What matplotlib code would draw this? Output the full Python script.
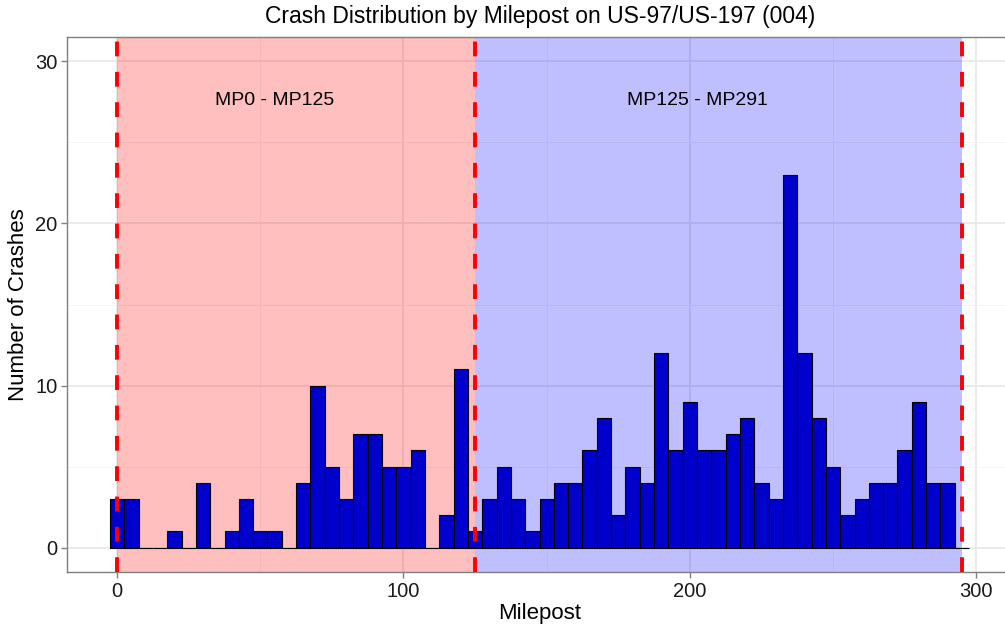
import numpy as np
import matplotlib
matplotlib.use("Agg")
import matplotlib.pyplot as plt
from matplotlib.ticker import MultipleLocator

plt.rcParams["font.family"] = ["Liberation Sans", "DejaVu Sans"]

# histogram bins (width 5, centred on multiples of 5)
BIN_CENTERS = list(range(0, 300, 5))
CRASH_COUNTS = [3, 3, 0, 0, 1, 0, 4, 0, 1, 3, 1, 1, 0, 4, 10, 5, 3, 7, 7, 5,
                5, 6, 0, 2, 11, 1, 3, 5, 3, 1, 3, 4, 4, 6, 8, 2, 5, 4, 12, 6,
                9, 6, 6, 7, 8, 4, 3, 23, 12, 8, 5, 2, 3, 4, 4, 6, 9, 4, 4, 0]
BIN_WIDTH = 5

# segment boundaries and labels
SEGMENTS = [(0, 125, "red", "MP0 - MP125", 55),
            (125, 295, "blue", "MP125 - MP291", 202.5)]
BREAKS = [0, 125, 295]
LABEL_Y = 27.6

fig = plt.figure(figsize=(10.05, 6.3), dpi=100)
ax = fig.add_axes([67 / 1005, 1 - 572 / 630, (1012 - 67) / 1005, (572 - 37) / 630])

ax.set_xlim(-17.5, 312.5)
ax.set_ylim(-1.5, 31.5)

# grid, theme_bw-like
ax.xaxis.set_major_locator(MultipleLocator(100))
ax.xaxis.set_minor_locator(MultipleLocator(50))
ax.yaxis.set_major_locator(MultipleLocator(10))
ax.yaxis.set_minor_locator(MultipleLocator(5))
ax.grid(which="major", color="#e6e6e6", linewidth=1.1, zorder=0)
ax.grid(which="minor", color="#f2f2f2", linewidth=0.6, zorder=0)
ax.set_axisbelow(True)
for sp in ax.spines.values():
    sp.set_color("#7f7f7f")
    sp.set_linewidth(1.0)
ax.tick_params(which="minor", length=0)
ax.tick_params(which="major", length=4, color="#7f7f7f", labelsize=14.5,
               labelcolor="#1a1a1a", width=1, pad=3)

for x0, x1, col, label, lx in SEGMENTS:
    ax.axvspan(x0, x1, color=col, alpha=0.25, linewidth=0, zorder=1)
    ax.text(lx, LABEL_Y, label, ha="center", va="center", fontsize=14,
            color="black", zorder=5)

ax.bar(BIN_CENTERS, CRASH_COUNTS, width=BIN_WIDTH, color="#0000cc",
       edgecolor="black", linewidth=0.8, zorder=2)

for b in BREAKS:
    ax.axvline(b, color="red", linewidth=2.8, linestyle=(0, (3.8, 4.0)), zorder=4)

ax.set_xlabel("Milepost", fontsize=16, labelpad=2)
ax.set_ylabel("Number of Crashes", fontsize=16, labelpad=4)
fig.text(540 / 1005, 1 - 16 / 630, "Crash Distribution by Milepost on US-97/US-197 (004)",
         ha="center", va="center", fontsize=16.5)

fig.savefig("out.png", dpi=100)
